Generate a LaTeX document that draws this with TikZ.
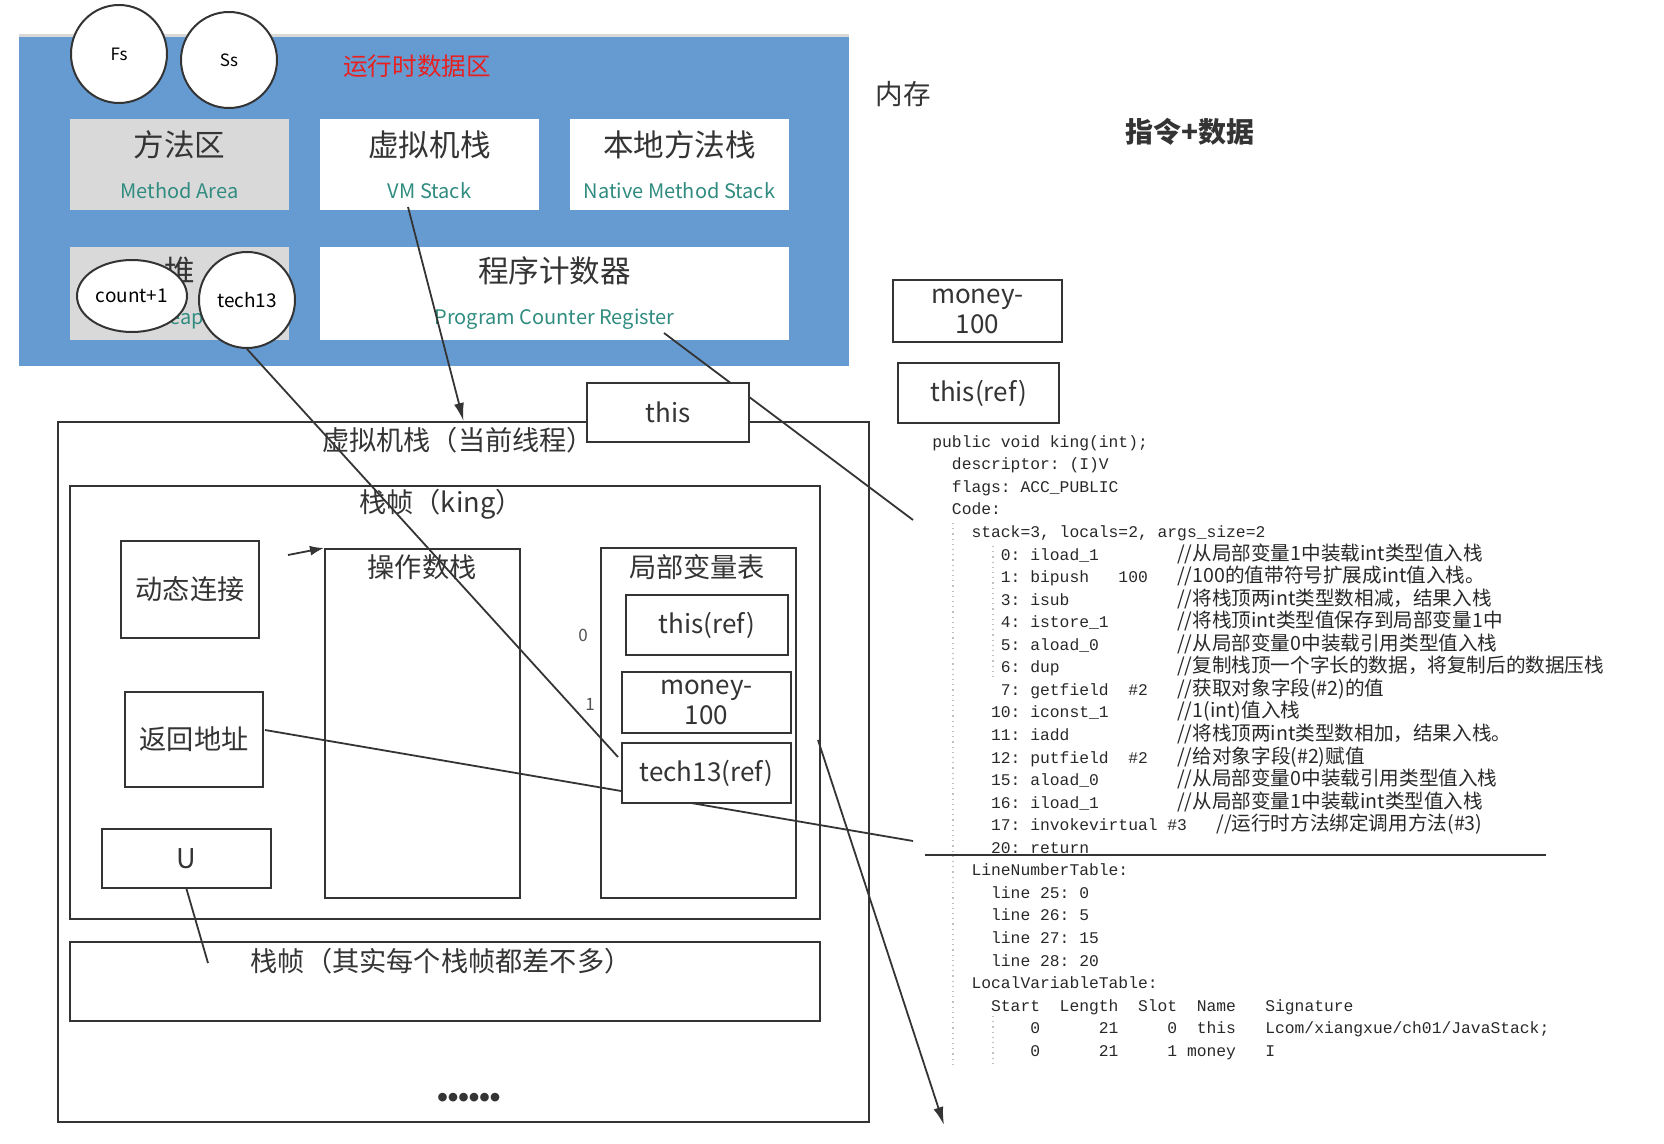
\documentclass[tikz,border=0pt]{standalone}
\usepackage{fontspec}
\setmainfont{Noto Sans CJK SC}
\setmonofont{Liberation Mono}
\newfontfamily\cjk{Noto Sans CJK SC}
\newfontfamily\lsans{Liberation Sans}
\usetikzlibrary{shapes.geometric,arrows.meta}

\definecolor{areablue}{RGB}{102,155,210}
\definecolor{cellgray}{RGB}{217,217,217}
\definecolor{subteal}{RGB}{48,140,128}
\definecolor{areared}{RGB}{232,32,32}
\definecolor{ink}{RGB}{52,52,52}
\definecolor{codeink}{RGB}{40,40,40}

\newlength\cw
\setlength\cw{4.896pt}
\newcommand\sk[1]{\hspace*{#1\cw}}
\newcommand\cmt{\cjk\fontsize{9.8}{11.28}\selectfont}
\newcommand\subt[1]{{\color{subteal}\fontsize{10}{21}\selectfont #1}}

\begin{document}
\begin{tikzpicture}[x=0.5pt,y=-0.5pt,
    conn/.style={draw=ink,line width=0.9pt},
    tip/.style={-{Latex[length=9pt,width=5pt]}},
    title/.style={font=\fontsize{13.6}{16}\selectfont,text=ink},
    guide/.style={draw=black!25,dotted,line width=0.6pt}]
  \useasboundingbox (0,0) rectangle (1664,1144);

  % runtime data area
  \fill[areablue] (19,37) rectangle (849,366);
  \draw[black!15,line width=1.5pt] (19,36) -- (849,36);
  \node[text=areared,font=\fontsize{12.3}{14}\selectfont] (rdatitle) at (417,66) {运行时数据区};

  \begin{scope}[every node/.style={inner sep=0pt,align=center,text=ink,
      minimum width=109.5pt,minimum height=45.5pt,font=\fontsize{15.3}{21}\selectfont}]
    \node[fill=cellgray] (mthd) at (179.5,164.5) {方法区\\\subt{Method Area}};
    \node[fill=white] (vms) at (429.5,164.5) {虚拟机栈\\\subt{VM Stack}};
    \node[fill=white] (nms) at (679.5,164.5) {本地方法栈\\\subt{Native Method Stack}};
    \node[fill=cellgray,minimum height=46.5pt] (heap) at (179.5,293.5) {堆\\\subt{Heap}};
    \node[fill=white,minimum width=234.5pt,minimum height=46.5pt] (pcr) at (554.5,293.5) {程序计数器\\\subt{Program Counter Register}};
  \end{scope}

  \begin{scope}[every node/.style={ellipse,draw=ink,fill=white,line width=1pt,inner sep=0pt,
      minimum width=48pt,minimum height=48pt,font=\fontsize{9.5}{11}\selectfont}]
    \node[minimum height=49pt,font=\fontsize{8.5}{10}\selectfont] (fs) at (119,54) {Fs};
    \node[font=\fontsize{8.5}{10}\selectfont] (ss) at (229,60) {Ss};
    \node[minimum width=55pt,minimum height=36pt] (cnt) at (132,296) {count+1};
    \node (tch) at (247,300) {tech13};
  \end{scope}

  \node[font=\fontsize{13.8}{16}\selectfont,text=ink] (mem) at (903,94) {内存};
  \node[font=\bfseries\fontsize{14}{16}\selectfont,text=ink] (instr) at (1190,132) {指令+数据};

  % frames
  \begin{scope}[every node/.style={draw=ink,line width=1pt,fill=white,inner sep=0pt}]
    \node[minimum width=405.5pt,minimum height=350pt] (jvms) at (463.5,772) {};
    \node[minimum width=375pt,minimum height=216.5pt] (king) at (445,702.5) {};
    \node[minimum width=375pt,minimum height=39.5pt] (frame2) at (445,981.5) {};
    \node[minimum width=97.5pt,minimum height=174.5pt] (opst) at (422.5,723.5) {};
    \node[minimum width=97.5pt,minimum height=175pt] (lvt) at (698.5,723) {};
  \end{scope}
  \node[title] (jvmstitle) at (458,440) {虚拟机栈（当前线程）};
  \node[title] (kingtitle) at (441,504) {栈帧（king）};
  \node[title] (f2title) at (441,961) {栈帧（其实每个栈帧都差不多）};
  \node[title] (opsttitle) at (422,567) {操作数栈};
  \node[title] (lvttitle) at (697,567) {局部变量表};
  \node[font=\lsans\bfseries\fontsize{15}{16}\selectfont,text=ink] (more) at (469,1100) {••••••};

  \begin{scope}[every node/.style={draw=ink,line width=1pt,fill=white,inner sep=0pt,
      align=center,font=\fontsize{13.6}{15}\selectfont,text=ink}]
    \node[minimum width=69pt,minimum height=48.5pt] (dyn) at (190,589.5) {动态连接};
    \node[minimum width=69pt,minimum height=47.5pt] (ret) at (194,739.5) {返回地址};
    \node[minimum width=84.5pt,minimum height=29.5pt] (ubox) at (186.5,858.5) {U};
  \end{scope}

  % connectors
  \coordinate (vmsfoot) at (408,207);
  \coordinate (pcfoot) at (664,333);
  \coordinate (codetop) at (913,520);
  \coordinate (trefin) at (618,757);
  \coordinate (retout) at (265,730);
  \coordinate (codemid) at (913,841);
  \coordinate (kingout) at (818,740);
  \coordinate (codeend) at (944,1125);
  \coordinate (dynout) at (288,555);
  \coordinate (ufoot) at (208,963);

  \draw[conn,tip] (vmsfoot) -- (jvms.north);
  \draw[conn] (pcfoot) -- (codetop);
  \draw[conn] (tch.south) -- (trefin);
  \draw[conn] (retout) -- (codemid);
  \draw[conn,tip] (kingout) -- (codeend);
  \draw[conn,-{Latex[length=7pt,width=5pt]}] (dynout) -- (opst.north west);
  \draw[conn] (ubox.south) -- (ufoot);

  \begin{scope}[every node/.style={draw=ink,line width=1pt,fill=white,inner sep=0pt,
      align=center,font=\fontsize{13}{15}\selectfont,text=ink}]
    \node[minimum width=81pt,minimum height=29.5pt] (thisbox) at (668,412.5) {this};
    \node[minimum width=81pt,minimum height=30pt] (thisref) at (707,625) {this(ref)};
    \node[minimum width=84.5pt,minimum height=30.5pt] (money) at (706.5,702.5) {money-\\100};
    \node[minimum width=84.5pt,minimum height=30pt] (tref) at (706.5,773) {tech13(ref)};
    \node[minimum width=84.5pt,minimum height=31pt] (rmoney) at (977.5,311) {money-\\100};
    \node[minimum width=80.5pt,minimum height=30pt] (rthis) at (978.5,393) {this(ref)};
  \end{scope}
  \node[font=\fontsize{8.5}{10}\selectfont,text=ink!85] (slot0) at (583,635) {0};
  \node[font=\fontsize{8.5}{10}\selectfont,text=ink!85] (slot1) at (590,704) {1};

  % javap listing
  \draw[guide] (953,523) -- (953,1066);
  \draw[guide] (993,546) -- (993,680);
  \draw[guide] (993,1016) -- (993,1064);
  \node[anchor=north west,inner sep=0pt,align=left,text=codeink,
        font=\ttfamily\fontsize{8.16}{11.28}\selectfont] (javap) at (932,435) {%
public~void~king(int);\\
\sk{2}descriptor:~(I)V\\
\sk{2}flags:~ACC\_PUBLIC\\
\sk{2}Code:\\
\sk{4}stack=3,~locals=2,~args\_size=2\\
\sk{7}0:~iload\_1\sk{8}{\cmt //从局部变量1中装载int类型值入栈}\\
\sk{7}1:~bipush\sk{3}100\sk{3}{\cmt //100的值带符号扩展成int值入栈。}\\
\sk{7}3:~isub\sk{11}{\cmt //将栈顶两int类型数相减，结果入栈}\\
\sk{7}4:~istore\_1\sk{7}{\cmt //将栈顶int类型值保存到局部变量1中}\\
\sk{7}5:~aload\_0\sk{8}{\cmt //从局部变量0中装载引用类型值入栈}\\
\sk{7}6:~dup\sk{12}{\cmt //复制栈顶一个字长的数据，将复制后的数据压栈}\\
\sk{7}7:~getfield\sk{2}\#2\sk{3}{\cmt //获取对象字段(\#2)的值}\\
\sk{6}10:~iconst\_1\sk{7}{\cmt //1(int)值入栈}\\
\sk{6}11:~iadd\sk{11}{\cmt //将栈顶两int类型数相加，结果入栈。}\\
\sk{6}12:~putfield\sk{2}\#2\sk{3}{\cmt //给对象字段(\#2)赋值}\\
\sk{6}15:~aload\_0\sk{8}{\cmt //从局部变量0中装载引用类型值入栈}\\
\sk{6}16:~iload\_1\sk{8}{\cmt //从局部变量1中装载int类型值入栈}\\
\sk{6}17:~invokevirtual~\#3\sk{3}{\cmt //运行时方法绑定调用方法(\#3)}\\
\sk{6}20:~return\\
\sk{4}LineNumberTable:\\
\sk{6}line~25:~0\\
\sk{6}line~26:~5\\
\sk{6}line~27:~15\\
\sk{6}line~28:~20\\
\sk{4}LocalVariableTable:\\
\sk{6}Start\sk{2}Length\sk{2}Slot\sk{2}Name\sk{3}Signature\\
\sk{10}0\sk{6}21\sk{5}0\sk{2}this\sk{3}Lcom/xiangxue/ch01/JavaStack;\\
\sk{10}0\sk{6}21\sk{5}1~money\sk{3}I};
  \coordinate (rulel) at (925,855);
  \coordinate (ruler) at (1546,855);
  \draw[conn,line width=1.1pt] (rulel) -- (ruler);

\end{tikzpicture}
\end{document}
